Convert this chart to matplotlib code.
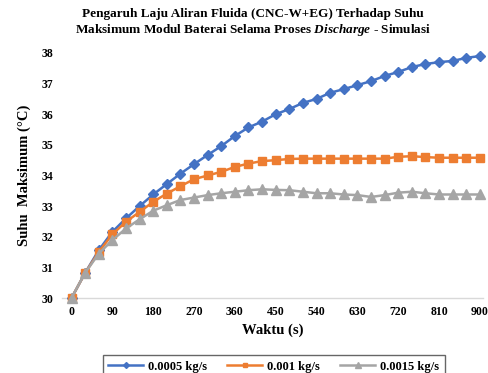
import matplotlib.pyplot as plt
import numpy as np

plt.rcParams["font.family"] = ["Liberation Serif", "DejaVu Serif"]
plt.rcParams["mathtext.fontset"] = "custom"
plt.rcParams["mathtext.it"] = "Liberation Serif:italic:bold"
plt.rcParams["mathtext.rm"] = "Liberation Serif:bold"

waktu = np.arange(0, 901, 30)

suhu_0005 = [30.0, 30.82, 31.56, 32.16, 32.6, 33.0, 33.38, 33.72, 34.06, 34.37,
             34.67, 34.96, 35.29, 35.57, 35.76, 36.0, 36.17, 36.37, 36.5, 36.7,
             36.82, 36.95, 37.08, 37.25, 37.38, 37.54, 37.64, 37.7, 37.74, 37.84,
             37.9]
suhu_001 = [30.0, 30.82, 31.5, 32.08, 32.49, 32.81, 33.14, 33.41, 33.65, 33.88,
            34.0, 34.12, 34.28, 34.39, 34.47, 34.5, 34.54, 34.55, 34.55, 34.55,
            34.55, 34.55, 34.55, 34.55, 34.61, 34.63, 34.6, 34.58, 34.58, 34.58,
            34.58]
suhu_0015 = [30.0, 30.82, 31.45, 31.89, 32.27, 32.57, 32.85, 33.03, 33.2, 33.28,
             33.36, 33.42, 33.47, 33.52, 33.55, 33.53, 33.52, 33.47, 33.42, 33.42,
             33.38, 33.36, 33.3, 33.36, 33.44, 33.47, 33.42, 33.38, 33.38, 33.38,
             33.38]

series = [
    ("0.0005 kg/s", suhu_0005, "#4472C4", "D", 5),
    ("0.001 kg/s", suhu_001, "#ED7D31", "s", 6),
    ("0.0015 kg/s", suhu_0015, "#A5A5A5", "^", 6.5),
]

xticks = np.arange(0, 901, 90)
yticks = np.arange(30, 39, 1)

fig = plt.figure(figsize=(4.88, 3.73), dpi=100)
ax = fig.add_axes([0.127, 0.201, 0.863, 0.657])

for label, vals, color, marker, ms in series:
    ax.plot(waktu, vals, color=color, lw=1.8, marker=marker, ms=ms,
            label=label, clip_on=False, zorder=3)

ax.set_xlim(-21, 907)
ax.set_ylim(30, 38)
ax.set_xticks(xticks)
ax.set_yticks(yticks)
ax.tick_params(length=0, labelsize=8.5, pad=6)
for t in ax.get_xticklabels() + ax.get_yticklabels():
    t.set_fontweight("bold")

for side in ["top", "right", "left"]:
    ax.spines[side].set_visible(False)
ax.spines["bottom"].set_color("#D9D9D9")
ax.spines["bottom"].set_linewidth(1.0)

ax.set_xlabel("Waktu (s)", fontsize=10.5, fontweight="bold", labelpad=4)
ax.set_ylabel("Suhu  Maksimum (\u00b0C)", fontsize=10.5, fontweight="bold", labelpad=8)

fig.text(0.518, 0.962,
         "Pengaruh Laju Aliran Fluida (CNC-W+EG) Terhadap Suhu",
         ha="center", va="center", fontsize=9.5, fontweight="bold")
fig.text(0.518, 0.920,
         "Maksimum Modul Baterai Selama Proses $\\it{Discharge}$ - Simulasi",
         ha="center", va="center", fontsize=9.5, fontweight="bold")

leg = fig.legend(loc="upper center", bbox_to_anchor=(0.561, 0.065), ncol=3,
                 frameon=True, fancybox=False, borderpad=0.45,
                 handlelength=2.8, handletextpad=0.4, columnspacing=1.6,
                 markerscale=0.6, prop={"weight": "bold", "size": 9})
leg.get_frame().set_edgecolor("#404040")
leg.get_frame().set_linewidth(1.0)

fig.savefig("out.png", dpi=100)
